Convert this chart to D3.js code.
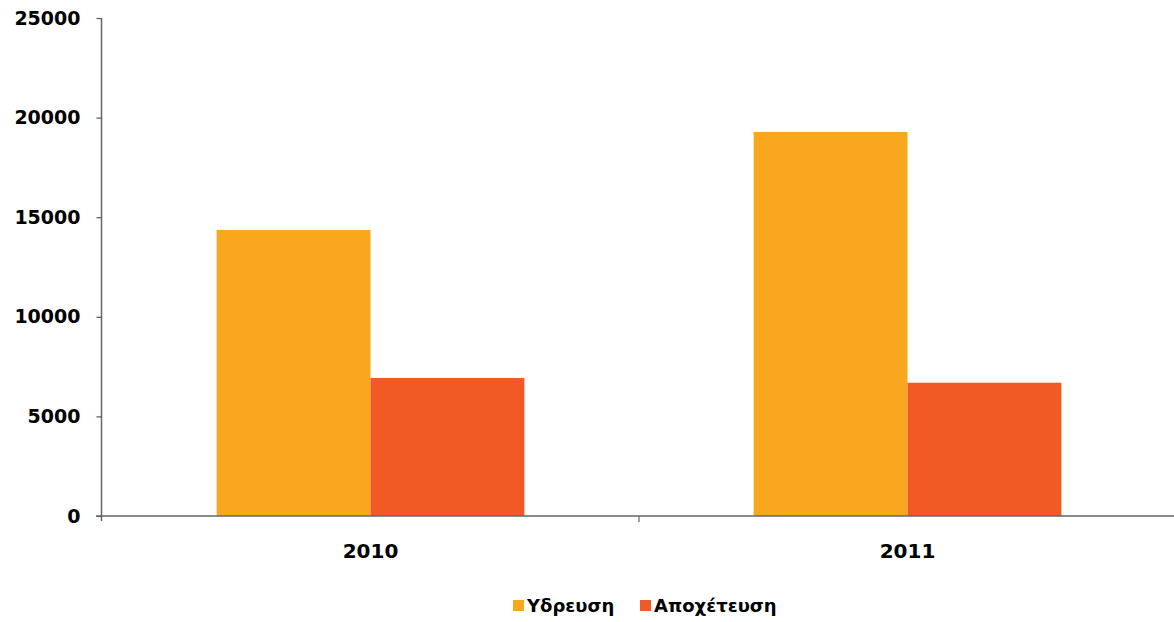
<!DOCTYPE html>
<html>
<head>
<meta charset="utf-8">
<script src="https://cdn.jsdelivr.net/npm/d3@7"></script>
<style>
body { margin: 0; background: #fff; }
text { font-family: "DejaVu Sans", Verdana, sans-serif; font-weight: bold; }
</style>
</head>
<body>
<div id="chart"></div>
<script>
var years = ["2010", "2011"];
var seriesNames = ["Υδρευση", "Αποχέτευση"];
var ydreusi = [14360, 19280];
var apoxeteusi = [6930, 6690];
var yTicks = [0, 5000, 10000, 15000, 20000, 25000];
var colors = ["#F9A81D", "#F15A25"];

var width = 1174, height = 622;
var svg = d3.select("#chart").append("svg")
  .attr("width", width).attr("height", height);

var x0 = d3.scaleBand().domain(years).range([102, 1176]).paddingInner(0).paddingOuter(0);
var x1 = d3.scaleBand().domain(seriesNames).range([0, x0.bandwidth()]).paddingInner(0).paddingOuter(0.745);
var yScale = d3.scaleLinear().domain([0, 25000]).range([516, 18]);

var table = years.map(function (yr, i) {
  return { year: yr, values: [ydreusi[i], apoxeteusi[i]] };
});

table.forEach(function (d) {
  d.values.forEach(function (v, j) {
    svg.append("rect")
      .attr("x", x0(d.year) + x1(seriesNames[j]))
      .attr("y", yScale(v))
      .attr("width", x1.bandwidth())
      .attr("height", yScale(0) - yScale(v))
      .attr("fill", colors[j]);
  });
});

// y axis
var yAxis = d3.axisLeft(yScale).tickValues(yTicks).tickSize(5).tickPadding(16).tickFormat(d3.format("d"));
var gy = svg.append("g").attr("transform", "translate(101.5,0)").call(yAxis);
gy.select(".domain").attr("stroke", "#666").attr("stroke-width", 1.5).attr("d", "M0,18V521");
gy.selectAll(".tick line").attr("stroke", "#555").attr("stroke-width", 1.2);
gy.selectAll(".tick text").attr("font-size", 19).attr("fill", "#000");

// x axis
var gx = svg.append("g").attr("transform", "translate(0,516)");
gx.append("line").attr("x1", 96).attr("x2", 1174).attr("y1", 0).attr("y2", 0)
  .attr("stroke", "#666").attr("stroke-width", 1.5);
gx.selectAll(".xtick").data(years.slice(1)).enter().append("line")
  .attr("x1", function (d) { return x0(d); }).attr("x2", function (d) { return x0(d); })
  .attr("y1", 0).attr("y2", 6).attr("stroke", "#666").attr("stroke-width", 1.2);
gx.selectAll(".xlabel").data(years).enter().append("text")
  .attr("x", function (d) { return x0(d) + x0.bandwidth() / 2; })
  .attr("y", 42).attr("text-anchor", "middle").attr("font-size", 20).attr("fill", "#000")
  .text(function (d) { return d; });

// legend
var legendX = [513, 640];
var lg = svg.append("g");
seriesNames.forEach(function (name, j) {
  lg.append("rect").attr("x", legendX[j]).attr("y", 600).attr("width", 11).attr("height", 11).attr("fill", colors[j]);
  lg.append("text").attr("x", legendX[j] + 14).attr("y", 612).attr("font-size", 18).attr("fill", "#000").text(name);
});
</script>
</body>
</html>
